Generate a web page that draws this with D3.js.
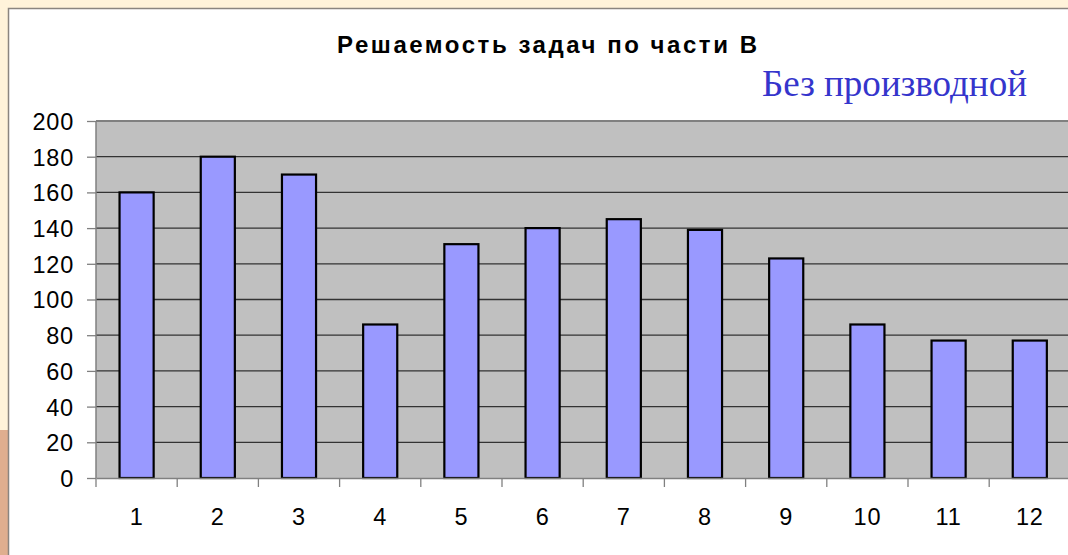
<!DOCTYPE html>
<html><head><meta charset="utf-8">
<script src="https://cdn.jsdelivr.net/npm/d3@7"></script>
<style>body{margin:0;background:#FFF3DA;overflow:hidden}svg{display:block}</style>
</head><body>
<svg id="c" width="1068" height="555"></svg>
<script>
const categories = ["1","2","3","4","5","6","7","8","9","10","11","12"];
const values = [160,180,170,86,131,140,145,139,123,86,77,77];
const yTicks = [0,20,40,60,80,100,120,140,160,180,200];
const title = "Решаемость задач по части В";
const subtitle = "Без производной";

(function(){
const svg = d3.select("#c");
// outer decoration
svg.append("rect").attr("x",0).attr("y",430).attr("width",8).attr("height",125).attr("fill","#DFAE8F");
svg.append("rect").attr("x",8.5).attr("y",8.5).attr("width",1070).attr("height",560)
  .attr("fill","#fff").attr("stroke","#8a8580").attr("stroke-width",1.5);

const pLeft=96, pTop=121, pBottom=478, step=81.2;
const x = d3.scaleBand().domain(categories).range([pLeft,pLeft+step*categories.length])
  .paddingInner(0.58).paddingOuter(0.29);
const y = d3.scaleLinear().domain([0,200]).range([pBottom,pTop]);

// plot area
svg.append("rect").attr("x",pLeft).attr("y",pTop).attr("width",step*12).attr("height",pBottom-pTop).attr("fill","#C0C0C0");
// gridlines
svg.append("g").selectAll("line").data(yTicks.filter(d=>d>0 && d<200)).join("line")
  .attr("x1",pLeft).attr("x2",pLeft+step*12).attr("y1",d=>y(d)).attr("y2",d=>y(d))
  .attr("stroke","#333").attr("stroke-width",1.3);
// plot border top/left
svg.append("line").attr("x1",pLeft).attr("x2",pLeft+step*12).attr("y1",y(200)).attr("y2",y(200)).attr("stroke","#808080").attr("stroke-width",2);
svg.append("line").attr("x1",pLeft).attr("x2",pLeft).attr("y1",pTop).attr("y2",pBottom).attr("stroke","#808080").attr("stroke-width",1.5);

// bars
svg.append("g").selectAll("rect").data(values).join("rect")
  .attr("x",(d,i)=>x(categories[i])).attr("width",x.bandwidth())
  .attr("y",d=>y(d)).attr("height",d=>pBottom-y(d))
  .attr("fill","#9999FF").attr("stroke","#000").attr("stroke-width",2.2);

// y axis
const ya = svg.append("g").attr("transform",`translate(${pLeft},0)`)
  .call(d3.axisLeft(y).tickValues(yTicks).tickSize(9).tickPadding(13));
ya.select(".domain").remove();
ya.selectAll("line").attr("stroke","#808080").attr("stroke-width",1.3);
ya.selectAll("text").attr("font-family","Liberation Sans, Arial, sans-serif").attr("font-size",23.5)
  .attr("letter-spacing","0.8px").attr("fill","#000").attr("dy","0.36em");

// x axis
const xa = svg.append("g").attr("transform",`translate(0,${pBottom})`)
  .call(d3.axisBottom(x).tickSize(0).tickPadding(30));
xa.select(".domain").attr("stroke","#808080").attr("stroke-width",1.5);
xa.selectAll("text").attr("font-family","Liberation Sans, Arial, sans-serif").attr("font-size",23.5)
  .attr("letter-spacing","0.8px").attr("fill","#000");
svg.append("g").selectAll("line").data(categories).join("line")
  .attr("x1",d=>x(d)-x.step()*x.paddingInner()/2).attr("x2",d=>x(d)-x.step()*x.paddingInner()/2)
  .attr("y1",pBottom).attr("y2",pBottom+9).attr("stroke","#808080").attr("stroke-width",1.3);

// titles
svg.append("text").attr("x",547).attr("y",53).attr("text-anchor","middle")
  .attr("font-family","Liberation Sans, Arial, sans-serif").attr("font-weight","bold").attr("font-size",24)
  .attr("textLength",420).attr("lengthAdjust","spacing").text(title);
svg.append("text").attr("x",762).attr("y",96)
  .attr("font-family","Liberation Serif, Times New Roman, serif").attr("font-size",37)
  .attr("fill","#3535CC").attr("textLength",265).attr("lengthAdjust","spacingAndGlyphs").text(subtitle);
})();
</script>
</body></html>
